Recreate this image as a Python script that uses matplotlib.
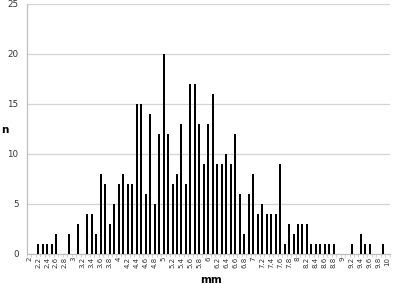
import matplotlib
matplotlib.use("Agg")
from matplotlib import pyplot as plt

# size classes in mm, 2.0 to 10.0 in steps of 0.1
sizes = [round(2 + i * 0.1, 1) for i in range(81)]

counts = [0, 0, 1, 1, 1, 1, 2, 0, 0, 2,
          0, 3, 0, 4, 4, 2, 8, 7, 3, 5,
          7, 8, 7, 7, 15, 15, 6, 14, 5, 12,
          20, 12, 7, 8, 13, 7, 17, 17, 13, 9,
          13, 16, 9, 9, 10, 9, 12, 6, 2, 6,
          8, 4, 5, 4, 4, 4, 9, 1, 3, 2,
          3, 3, 3, 1, 1, 1, 1, 1, 1, 0,
          0, 0, 1, 0, 2, 1, 1, 0, 0, 1,
          0]

labels = []
for i, s in enumerate(sizes):
    if i % 2 == 0:
        labels.append("%g" % s)

fig = plt.figure(figsize=(3.95, 2.84), dpi=100)
ax = fig.add_axes([0.068, 0.106, 0.919, 0.88])

ax.bar(range(len(sizes)), counts, width=0.45, color="black", zorder=3)

ax.set_xlim(-0.5, len(sizes) - 0.5)
ax.set_ylim(0, 25)
ax.set_yticks([0, 5, 10, 15, 20, 25])
ax.grid(axis="y", color="#d4d4d4", linewidth=0.9, zorder=0)

ax.set_xticks(range(0, len(sizes), 2))
ax.set_xticklabels(labels, rotation=90, fontsize=5)
ax.set_xticks([i + 0.5 for i in range(-1, len(sizes))], minor=True)
ax.tick_params(axis="x", which="major", length=0, pad=2, labelcolor="#333333")
ax.tick_params(axis="x", which="minor", length=2, color="#c0c0c0", width=0.5)
ax.tick_params(axis="y", length=0, labelsize=6.3, pad=6, labelcolor="#333333")

for side in ["top", "right"]:
    ax.spines[side].set_visible(False)
ax.spines["left"].set_color("#bfbfbf")
ax.spines["bottom"].set_color("#bfbfbf")
ax.spines["left"].set_linewidth(0.9)
ax.spines["bottom"].set_linewidth(0.9)

fig.text(0.535, 0.015, "mm", ha="center", va="center", fontsize=7.5, fontweight="bold")
fig.text(0.012, 0.542, "n", ha="center", va="center", fontsize=7.5, fontweight="bold")

plt.savefig("out.png", dpi=100)
